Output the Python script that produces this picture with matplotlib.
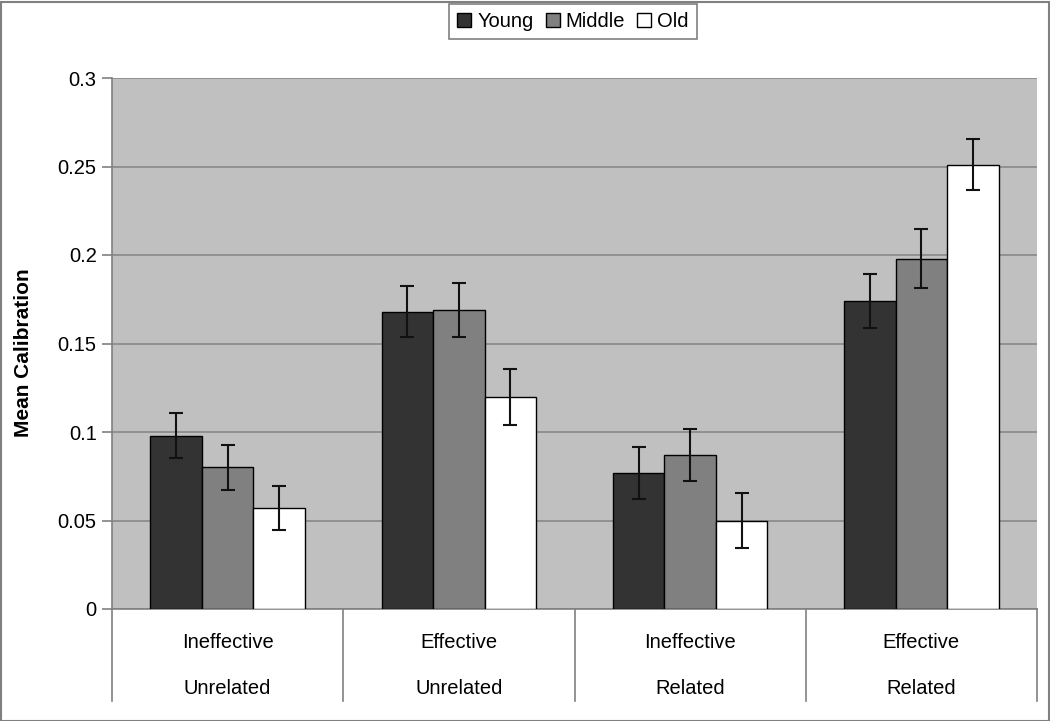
import matplotlib
matplotlib.use("Agg")
import matplotlib.pyplot as plt
from matplotlib.patches import Patch, Rectangle
from matplotlib import font_manager
import numpy as np

names = {f.name for f in font_manager.fontManager.ttflist}
base = "Liberation Sans Narrow" if "Liberation Sans Narrow" in names else "Liberation Sans"
plt.rcParams['font.family'] = [base, 'DejaVu Sans']

# ---- data ----
row1_labels = ["Ineffective", "Effective", "Ineffective", "Effective"]
row2_labels = ["Unrelated", "Unrelated", "Related", "Related"]
series_names = ["Young", "Middle", "Old"]
young = [0.098, 0.168, 0.077, 0.174]
middle = [0.080, 0.169, 0.087, 0.198]
old = [0.057, 0.120, 0.050, 0.251]
young_err = [0.0125, 0.0144, 0.0146, 0.0155]
middle_err = [0.0128, 0.0151, 0.0147, 0.0165]
old_err = [0.0126, 0.0158, 0.0153, 0.0143]
yticks = [0, 0.05, 0.1, 0.15, 0.2, 0.25, 0.3]
ytick_labels = ["0", "0.05", "0.1", "0.15", "0.2", "0.25", "0.3"]

colors = ["#333333", "#808080", "#ffffff"]
fs = 16 if base == "Liberation Sans Narrow" else 14.5
W, H = 1050, 721
fig = plt.figure(figsize=(W / 100, H / 100), dpi=100)
fig.patch.set_facecolor("white")
# outer border
fig.patches.append(Rectangle((0.5 / W, 0.5 / H), 1 - 1.5 / W, 1 - 2.5 / H, transform=fig.transFigure,
                             fill=False, edgecolor="#808080", linewidth=1.5))

left, right, top, bottom = 112, 1037, 78, 609
ax = fig.add_axes([left / W, 1 - bottom / H, (right - left) / W, (bottom - top) / H])
ax.set_facecolor("#c0c0c0")

x = np.arange(len(row1_labels))
bw = 0.223
for i, (vals, errs) in enumerate(zip([young, middle, old], [young_err, middle_err, old_err])):
    ax.bar(x + (i - 1) * bw, vals, width=bw, color=colors[i], edgecolor="black", linewidth=1.0,
           zorder=3, yerr=errs, error_kw=dict(ecolor="#111111", elinewidth=1.5, capsize=5, capthick=1.5, zorder=4))

ax.set_xlim(-0.5, 3.5)
ax.set_ylim(0, 0.3)
ax.set_yticks(yticks)
ax.set_yticklabels(ytick_labels, fontsize=fs)
ax.yaxis.grid(True, color="#888888", linewidth=1.2, zorder=0)
ax.set_axisbelow(True)
ax.tick_params(axis="y", length=7, color="#808080", width=1.2, pad=4)
ax.set_xticks([])
for s in ["top", "right"]:
    ax.spines[s].set_visible(False)
for s in ["left", "bottom"]:
    ax.spines[s].set_color("#808080")
    ax.spines[s].set_linewidth(1.2)

ax.set_ylabel("Mean Calibration", fontsize=fs + 0.5, fontweight="bold")
ax.yaxis.set_label_coords((33 - left) / (right - left), 0.483)

trans = ax.get_xaxis_transform()
ph = bottom - top
for i in range(len(row1_labels)):
    ax.text(x[i], -33 / ph, row1_labels[i], transform=trans, ha="center", va="center", fontsize=fs)
    ax.text(x[i], -79 / ph, row2_labels[i], transform=trans, ha="center", va="center", fontsize=fs)
for xb in np.arange(-0.5, 4.0, 1.0):
    ax.plot([xb, xb], [0, -92 / ph], transform=trans, color="#808080", linewidth=1.2, clip_on=False)

handles = [Patch(facecolor=c, edgecolor="black", linewidth=1.0) for c in colors]
leg = fig.legend(handles, series_names, loc="upper center", bbox_to_anchor=(573 / W, 1 - 4 / H), ncol=3,
                 fontsize=fs, frameon=True, fancybox=False, edgecolor="#808080", framealpha=1,
                 handlelength=0.7, handleheight=0.7, handletextpad=0.3, columnspacing=0.6,
                 borderpad=0.4, borderaxespad=0)
leg.get_frame().set_linewidth(1.2)

fig.savefig("out.png", dpi=100)
